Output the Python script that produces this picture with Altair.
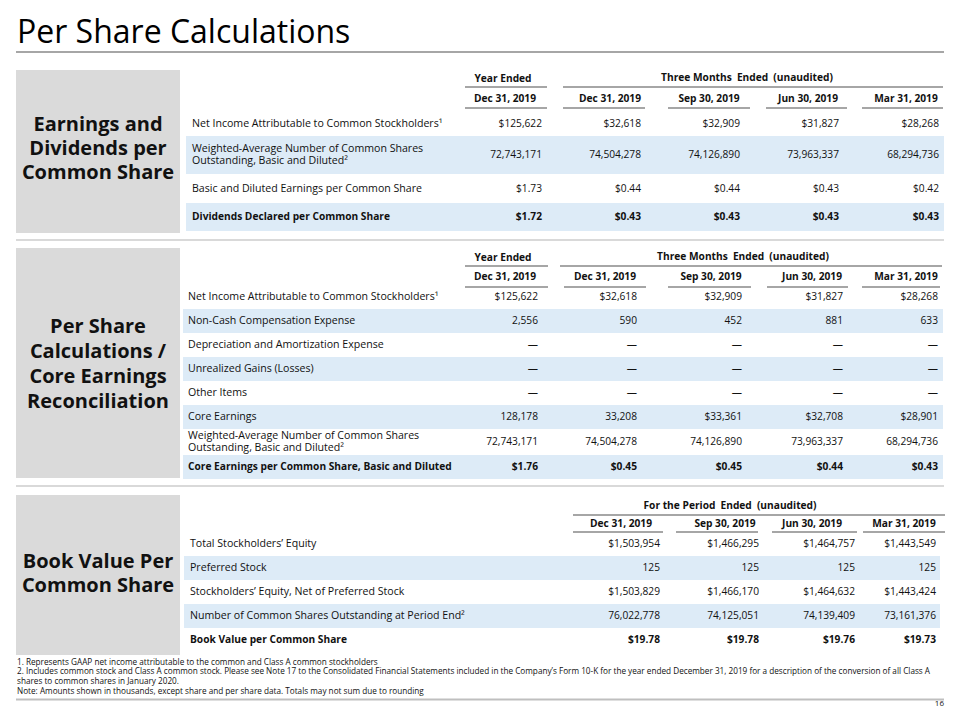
import altair as alt
import numpy as np
import pandas as pd

# ---------------- data ----------------
title = "Per Share Calculations"
periods = ["Dec 31, 2019", "Sep 30, 2019", "Jun 30, 2019", "Mar 31, 2019"]
year_header = "Year Ended"
quarter_header = "Three Months\u2002Ended\u2002(unaudited)"
period_header = "For the Period\u2002Ended\u2002(unaudited)"

sec1_title = ["Earnings and", "Dividends per", "Common Share"]
sec2_title = ["Per Share", "Calculations /", "Core Earnings", "Reconciliation"]
sec3_title = ["Book Value Per", "Common Share"]

t1_labels = [
    "Net Income Attributable to Common Stockholders\u00b9",
    "Weighted-Average Number of Common Shares\nOutstanding, Basic and Diluted\u00b2",
    "Basic and Diluted Earnings per Common Share",
    "Dividends Declared per Common Share",
]
t1_year = ["$125,622", "72,743,171", "$1.73", "$1.72"]
t1_q4 = ["$32,618", "74,504,278", "$0.44", "$0.43"]
t1_q3 = ["$32,909", "74,126,890", "$0.44", "$0.43"]
t1_q2 = ["$31,827", "73,963,337", "$0.43", "$0.43"]
t1_q1 = ["$28,268", "68,294,736", "$0.42", "$0.43"]

t2_labels = [
    "Net Income Attributable to Common Stockholders\u00b9",
    "Non-Cash Compensation Expense",
    "Depreciation and Amortization Expense",
    "Unrealized Gains (Losses)",
    "Other Items",
    "Core Earnings",
    "Weighted-Average Number of Common Shares\nOutstanding, Basic and Diluted\u00b2",
    "Core Earnings per Common Share, Basic and Diluted",
]
t2_year = ["$125,622", "2,556", "\u2014", "\u2014", "\u2014", "128,178", "72,743,171", "$1.76"]
t2_q4 = ["$32,618", "590", "\u2014", "\u2014", "\u2014", "33,208", "74,504,278", "$0.45"]
t2_q3 = ["$32,909", "452", "\u2014", "\u2014", "\u2014", "$33,361", "74,126,890", "$0.45"]
t2_q2 = ["$31,827", "881", "\u2014", "\u2014", "\u2014", "$32,708", "73,963,337", "$0.44"]
t2_q1 = ["$28,268", "633", "\u2014", "\u2014", "\u2014", "$28,901", "68,294,736", "$0.43"]

t3_labels = [
    "Total Stockholders\u2019 Equity",
    "Preferred Stock",
    "Stockholders\u2019 Equity, Net of Preferred Stock",
    "Number of Common Shares Outstanding at Period End\u00b2",
    "Book Value per Common Share",
]
t3_dec = ["$1,503,954", "125", "$1,503,829", "76,022,778", "$19.78"]
t3_sep = ["$1,466,295", "125", "$1,466,170", "74,125,051", "$19.78"]
t3_jun = ["$1,464,757", "125", "$1,464,632", "74,139,409", "$19.76"]
t3_mar = ["$1,443,549", "125", "$1,443,424", "73,161,376", "$19.73"]

footnotes = [
    "1. Represents  GAAP net income attributable  to the common and Class A common stockholders",
    "2. Includes common stock and Class A common stock. Please  see Note 17 to the Consolidated Financial Statements  included in the Company\u2019s Form 10-K for the year  ended December  31, 2019 for a description of the conversion of all Class A",
    "shares to common shares in January 2020.",
    "Note: Amounts shown in thousands, except  share and per share data.  Totals may not sum due to rounding",
]
page_number = "16"

# ---------------- layout / style ----------------
FONT = "Open Sans"
INK = "#111111"
GRAY_BOX = "#dadada"
BAND = "#ddebf7"
UNDERLINE = "#a6a6a6"
SEP = "#d9d9d9"

# plot area placed at page offset (8, 8); scales map slide pixels 1:1
W, H = 944, 700
XS = alt.Scale(domain=[8, 8 + W], nice=False, zero=False)
YS = alt.Scale(domain=[8, 8 + H], nice=False, zero=False, reverse=True)
LABEL_SIZE = 10.6
VALUE_SIZE = 10.2
HEAD_SIZE = 10.2


def xenc():
    return alt.X("x:Q", scale=XS, axis=None)


def yenc():
    return alt.Y("y:Q", scale=YS, axis=None)


def texts(rows, align="left", size=LABEL_SIZE, weight="normal", color=INK, lh=None):
    lh_eff = lh if lh else size * 1.2
    fixed = []
    for x, y, t in rows:
        n = str(t).count("\n") + 1
        fixed.append((x, y - (n - 1) * lh_eff / 2.0, t))
    df = pd.DataFrame(fixed, columns=["x", "y", "t"])
    props = dict(align=align, baseline="middle", font=FONT, fontSize=size,
                 fontWeight=weight, color=color, lineBreak="\n", lineHeight=lh_eff)
    return alt.Chart(df).mark_text(**props).encode(x=xenc(), y=yenc(), text="t:N")


def rects(rows, color):
    df = pd.DataFrame(rows, columns=["x", "x2", "y", "y2"])
    return alt.Chart(df).mark_rect(color=color).encode(
        x=xenc(), x2="x2:Q", y=yenc(), y2="y2:Q")


def rules(rows, color, width):
    df = pd.DataFrame(rows, columns=["x", "x2", "y"])
    return alt.Chart(df).mark_rule(color=color, strokeWidth=width).encode(
        x=xenc(), x2="x2:Q", y=yenc())


layers = []

# section boxes
boxes = [(16, 180, 70, 233), (16, 180, 248, 478), (16, 180, 495, 655)]
layers.append(rects(boxes, GRAY_BOX))

# separators / rules
layers.append(rules([(16, 944, 52)], UNDERLINE, 2))
layers.append(rules([(16, 944, 240), (16, 944, 486)], SEP, 2))
layers.append(rules([(16, 944, 699.5)], "#bfbfbf", 2))


def build_table(top, heights, band_x, label_x, labels, cols, col_x, bold_idx):
    edges = np.concatenate([[top], top + np.cumsum(heights)])
    centers = (edges[:-1] + edges[1:]) / 2
    n = len(labels)
    band_rows = [(band_x[0], band_x[1], edges[i], edges[i + 1]) for i in range(n) if i % 2 == 1]
    out = [rects(band_rows, BAND)]
    reg_lab = [(label_x, centers[i], labels[i]) for i in range(n) if i != bold_idx]
    bold_lab = [(label_x, centers[i], labels[i]) for i in range(n) if i == bold_idx]
    reg_val, bold_val = [], []
    for cx, col in zip(col_x, cols):
        for i in range(n):
            (bold_val if i == bold_idx else reg_val).append((cx, centers[i], col[i]))
    out.append(texts(reg_lab, lh=12))
    out.append(texts(bold_lab, weight="bold", size=10.2))
    out.append(texts(reg_val, align="right", size=VALUE_SIZE))
    out.append(texts(bold_val, align="right", weight="bold", size=VALUE_SIZE))
    return out


# ---- table 1
layers += build_table(111, [25, 38, 29, 28], (186, 944), 192, t1_labels,
                      [t1_year, t1_q4, t1_q3, t1_q2, t1_q1],
                      [542, 641, 740, 839, 939], 3)
layers.append(rules([(465, 547, 87), (563, 943, 87)], UNDERLINE, 2))
layers.append(rules([(465, 547, 108), (563, 645, 108), (668, 750, 108),
                     (766, 847, 108), (862, 943, 108)], UNDERLINE, 2))
layers.append(texts([(503, 79, year_header), (747, 78, quarter_header)],
                    align="center", weight="bold", size=HEAD_SIZE))
t1_head_x = [505, 610, 709, 808, 906]
layers.append(texts([(x, 98.5, p) for x, p in zip(t1_head_x, [periods[0]] + periods)],
                    align="center", weight="bold", size=HEAD_SIZE))

# ---- table 2
layers += build_table(285, [24, 24, 24, 24, 24, 24, 26, 24], (183, 943), 188, t2_labels,
                      [t2_year, t2_q4, t2_q3, t2_q2, t2_q1],
                      [538, 637, 742, 843, 938], 7)
layers.append(rules([(465, 548, 266), (560, 942, 266)], UNDERLINE, 2))
layers.append(rules([(465, 548, 287), (564, 646, 287), (668, 751, 287),
                     (767, 848, 287), (862, 940, 287)], UNDERLINE, 2))
layers.append(texts([(503, 258, year_header), (743, 257, quarter_header)],
                    align="center", weight="bold", size=HEAD_SIZE))
t2_head_x = [505, 605, 711, 812, 906]
layers.append(texts([(x, 276.5, p) for x, p in zip(t2_head_x, [periods[0]] + periods)],
                    align="center", weight="bold", size=HEAD_SIZE))

# ---- table 3
layers += build_table(532, [24, 24, 24, 24, 24], (184, 940), 190, t3_labels,
                      [t3_dec, t3_sep, t3_jun, t3_mar],
                      [660, 759, 855, 936], 4)
layers.append(rules([(573, 945, 515)], UNDERLINE, 2))
layers.append(rules([(573, 663, 532), (676, 758, 532), (772, 857, 532),
                     (863, 945, 532)], UNDERLINE, 2))
layers.append(texts([(730, 506, period_header)], align="center", weight="bold", size=HEAD_SIZE))
t3_head_x = [621, 725, 812, 904]
layers.append(texts([(x, 523.5, p) for x, p in zip(t3_head_x, periods)],
                    align="center", weight="bold", size=HEAD_SIZE))

# ---- section titles
layers.append(texts([(98, 149, "\n".join(sec1_title))],
                    align="center", weight="bold", size=20, lh=24))
layers.append(texts([(98, 364.5, "\n".join(sec2_title))],
                    align="center", weight="bold", size=20, lh=25))
layers.append(texts([(98, 574, "\n".join(sec3_title))],
                    align="center", weight="bold", size=20, lh=24))

# ---- slide title
layers.append(texts([(17, 32.5, title)], size=32, color="#000000"))

# ---- footnotes & page number
layers.append(texts([(17, 662.5 + 9.8 * i, f) for i, f in enumerate(footnotes)], size=8.2))
layers.append(texts([(944, 703.5, page_number)], align="right", size=8))

chart = alt.layer(*layers).properties(
    width=W, height=H, padding=0, autosize=alt.AutoSizeParams(type="none"),
    background="white",
).configure_view(stroke=None)

chart.save("out.html", embed_options={"renderer": "svg", "actions": False})
